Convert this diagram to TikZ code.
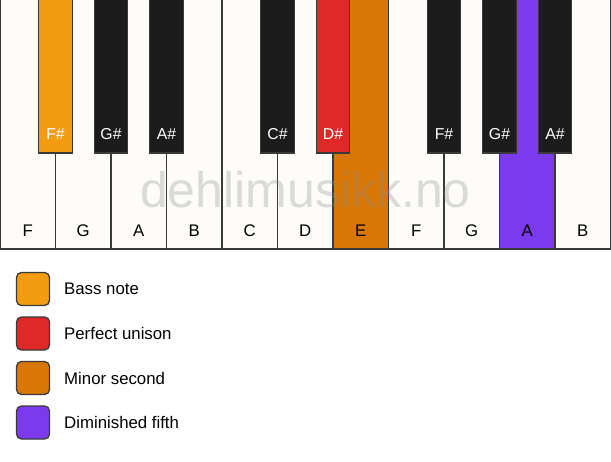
\documentclass[tikz,border=0pt]{standalone}
\usepackage{fontspec}
\setmainfont{Liberation Sans}
\definecolor{keywhite}{HTML}{FDFCF9}
\definecolor{keyblack}{HTML}{1C1C1C}
\definecolor{keyline}{HTML}{3A3A3A}
\definecolor{bassc}{HTML}{F39C12}
\definecolor{unisonc}{HTML}{DF2828}
\definecolor{minsecc}{HTML}{D97706}
\definecolor{dimfifc}{HTML}{7C3AED}
\tikzset{
  whitekey/.style={draw=keyline, line width=1.3pt, fill=keywhite},
  blackkey/.style={draw=keyline, line width=1.3pt, fill=keyblack},
  wlabel/.style={font=\fontsize{16.8}{16.8}\selectfont, text=black, anchor=base},
  blabel/.style={font=\fontsize{15.8}{15.8}\selectfont, text=white, anchor=base},
  legbox/.style={draw=keyline, line width=1.3pt, rounded corners=5pt, minimum width=33pt, minimum height=33pt, inner sep=0pt},
  legtext/.style={font=\fontsize{16.8}{16.8}\selectfont, anchor=west, inner sep=0pt},
}
\begin{document}
\begin{tikzpicture}[x=1pt,y=-1pt]
\useasboundingbox[fill=white] (0,0) rectangle (611,461);
% white keys
\foreach \i/\n/\c in {0/F/keywhite,1/G/keywhite,2/A/keywhite,3/B/keywhite,4/C/keywhite,5/D/keywhite,6/E/minsecc,7/F/keywhite,8/G/keywhite,9/A/dimfifc,10/B/keywhite}{
  \draw[whitekey, fill=\c] ({\i*55.5},-2) rectangle ({(\i+1)*55.5},249);
  \node[wlabel] (w\i) at ({\i*55.5+27.75},236) {\n};
}
% watermark
\node[font=\fontsize{50}{50}\selectfont, text=black!45, opacity=0.3, anchor=base] (wm) at (305.5,207) {dehlimusikk.no};
% black keys
\foreach \i/\n/\c in {1/F\#/bassc,2/G\#/keyblack,3/A\#/keyblack,5/C\#/keyblack,6/D\#/unisonc,8/F\#/keyblack,9/G\#/keyblack,10/A\#/keyblack}{
  \draw[blackkey, fill=\c] ({\i*55.5-16.75},-2) rectangle ({\i*55.5+16.75},153);
  \node[blabel] (b\i) at ({\i*55.5},139) {\n};
}
% legend
\foreach \k/\c/\t in {0/bassc/Bass note,1/unisonc/Perfect unison,2/minsecc/Minor second,3/dimfifc/Diminished fifth}{
  \node[legbox, fill=\c] (l\k) at (33,{289+\k*44.5}) {};
  \node[legtext] (t\k) at (64,{289+\k*44.5}) {\t};
}
\end{tikzpicture}
\end{document}
